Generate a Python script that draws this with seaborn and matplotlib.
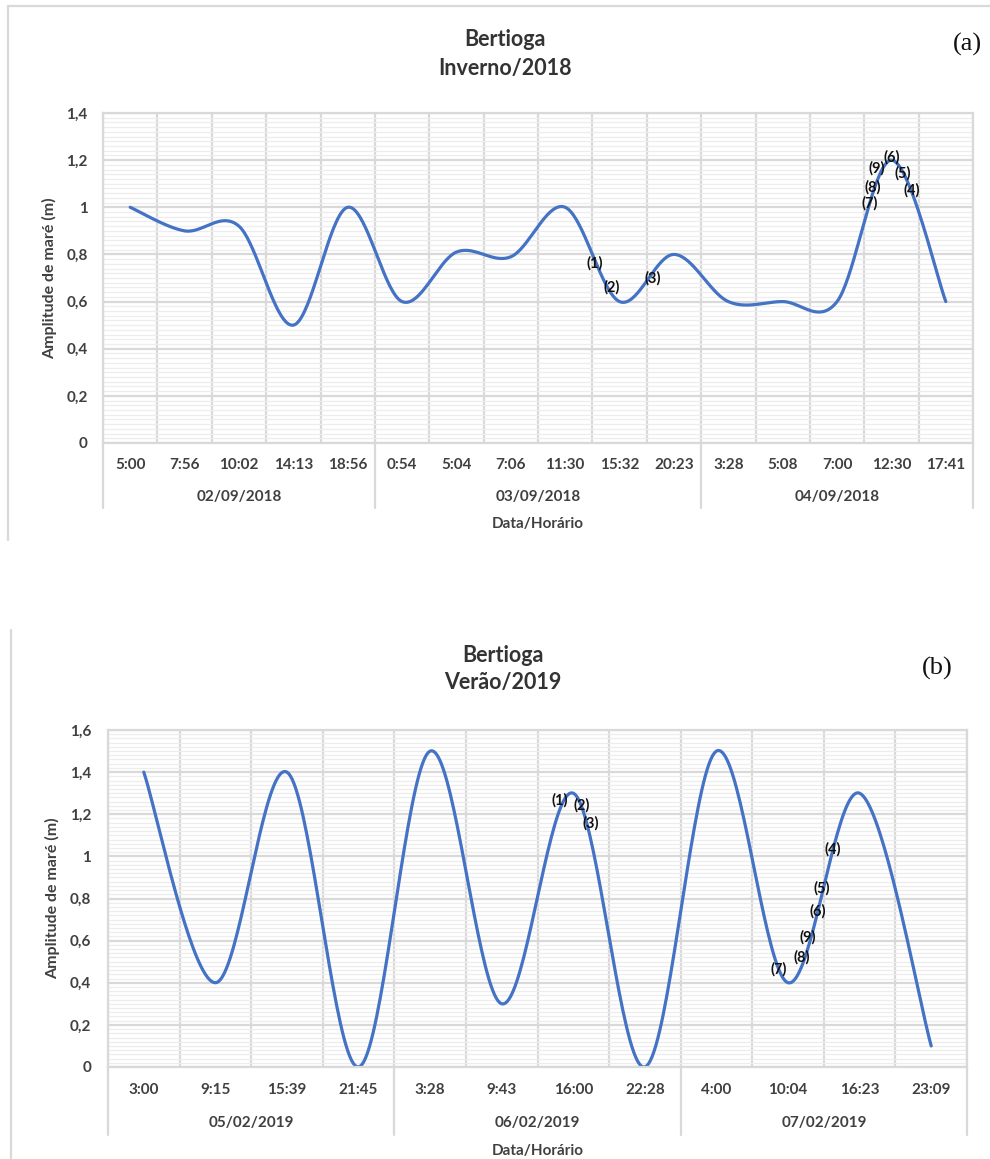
import numpy as np
import matplotlib
matplotlib.use("Agg")
import matplotlib.pyplot as plt
import seaborn as sns
from matplotlib.transforms import ScaledTranslation
from matplotlib.lines import Line2D

# ---------------- data ----------------
a_times = ["5:00", "7:56", "10:02", "14:13", "18:56", "0:54", "5:04", "7:06",
           "11:30", "15:32", "20:23", "3:28", "5:08", "7:00", "12:30", "17:41"]
a_dates = ["02/09/2018", "03/09/2018", "04/09/2018"]
a_group_sizes = [5, 6, 5]
a_values = [1.0, 0.9, 0.92, 0.5, 1.0, 0.6, 0.81, 0.79,
            1.0, 0.6, 0.8, 0.6, 0.6, 0.6, 1.2, 0.6]
a_marks = ["(1)", "(2)", "(3)", "(4)", "(5)", "(6)", "(7)", "(8)", "(9)"]
a_mark_x = [8.54, 8.86, 9.61, 14.37, 14.21, 14.0, 13.6, 13.65, 13.73]
a_mark_y = [0.764, 0.662, 0.70, 1.073, 1.146, 1.213, 1.018, 1.086, 1.167]

b_times = ["3:00", "9:15", "15:39", "21:45", "3:28", "9:43", "16:00", "22:28",
           "4:00", "10:04", "16:23", "23:09"]
b_dates = ["05/02/2019", "06/02/2019", "07/02/2019"]
b_group_sizes = [4, 4, 4]
b_values = [1.4, 0.4, 1.4, 0.0, 1.5, 0.3, 1.3, 0.0, 1.5, 0.4, 1.3, 0.1]
b_marks = ["(1)", "(2)", "(3)", "(4)", "(5)", "(6)", "(7)", "(8)", "(9)"]
b_mark_x = [5.81, 6.12, 6.25, 9.63, 9.47, 9.42, 8.87, 9.19, 9.28]
b_mark_y = [1.268, 1.244, 1.159, 1.035, 0.85, 0.741, 0.465, 0.522, 0.617]

# ---------------- style ----------------
W, H, DPI = 990, 1159, 100
sns.set_theme(style="white")
plt.rcParams["font.family"] = ["Lato", "DejaVu Sans"]

LINE = "#4472C4"
GRID = "#d9d9d9"
GRID_MINOR = "#ededed"
TXT = "#404040"
FS = 11

fig = plt.figure(figsize=(W / DPI, H / DPI), dpi=DPI)


def smooth(values, per=40):
    """Excel-like smoothed line (cubic Bezier through each data point)."""
    n = len(values)
    P = np.column_stack([np.arange(n, dtype=float), np.asarray(values, float)])
    xs, ys = [], []
    t = np.linspace(0, 1, per)
    for i in range(n - 1):
        p0 = P[max(i - 1, 0)]
        p1 = P[i]
        p2 = P[i + 1]
        p3 = P[min(i + 2, n - 1)]
        c1 = p1 + (p2 - p0) / 6.0
        c2 = p2 - (p3 - p1) / 6.0
        seg = ((1 - t) ** 3)[:, None] * p1 + (3 * (1 - t) ** 2 * t)[:, None] * c1 \
            + (3 * (1 - t) * t ** 2)[:, None] * c2 + (t ** 3)[:, None] * p2
        if i > 0:
            seg = seg[1:]
        xs.append(seg[:, 0])
        ys.append(seg[:, 1])
    return np.concatenate(xs), np.concatenate(ys)


def panel(box, times, dates, sizes, values, ymax, marks, mx, my, offs, ypad):
    x0, y0, x1, y1 = box  # pixel box of the plot area
    axw, axh = x1 - x0, y1 - y0
    ax = fig.add_axes([x0 / W, 1 - y1 / H, axw / W, axh / H])
    n = len(times)
    ax.set_xlim(-0.5, n - 0.5)
    ax.set_ylim(0, ymax)

    yt = np.round(np.arange(0, ymax + 1e-9, 0.2), 1)
    ax.set_yticks(yt)
    ax.set_yticklabels([("%g" % v).replace(".", ",") for v in yt])
    ax.set_yticks(np.arange(0, ymax + 1e-9, 0.02), minor=True)
    ax.set_xticks(range(n))
    ax.set_xticklabels(times)
    ax.set_xticks(np.arange(-0.5, n, 1.0), minor=True)

    ax.grid(which="minor", axis="y", color=GRID_MINOR, lw=0.9)
    ax.grid(which="major", axis="y", color=GRID, lw=1.6)
    ax.grid(which="minor", axis="x", color=GRID, lw=1.6)
    ax.grid(which="major", axis="x", visible=False)
    ax.set_axisbelow(True)
    for s in ax.spines.values():
        s.set_color(GRID)
        s.set_linewidth(1.6)

    ax.tick_params(axis="both", which="both", length=0)
    ax.tick_params(axis="y", pad=ypad, labelsize=FS, labelcolor=TXT)
    ax.tick_params(axis="x", pad=offs[0] * 0.72, labelsize=FS, labelcolor=TXT)
    for lab in ax.get_xticklabels():
        lab.set_verticalalignment("center")
        lab.set_fontweight("bold")
    for lab in ax.get_yticklabels():
        lab.set_fontweight("bold")

    xs, ys = smooth(values)
    sns.lineplot(x=xs, y=ys, ax=ax, color=LINE, lw=2.3, sort=False,
                 estimator=None)

    for t, xx, yy in zip(marks, mx, my):
        ax.text(xx, yy, t, ha="center", va="center", fontsize=10.5,
                fontweight="bold", color="#111111")

    trans = ax.get_xaxis_transform()
    # group separators and date labels
    bounds = np.concatenate([[0], np.cumsum(sizes)]) - 0.5
    for b in bounds:
        ax.add_line(Line2D([b, b], [0, -offs[2] / axh], transform=trans,
                           color=GRID, lw=1.6, clip_on=False))
    for i, d in enumerate(dates):
        c = (bounds[i] + bounds[i + 1]) / 2
        ax.text(c, 0, d, transform=trans + ScaledTranslation(0, -offs[1] / DPI, fig.dpi_scale_trans),
                ha="center", va="center", fontsize=FS, fontweight="bold", color=TXT)
    ax.text(0.5, -offs[3] / axh, "Data/Horário", transform=ax.transAxes,
            ha="center", va="center", fontsize=FS, fontweight="bold", color=TXT)
    ax.text(-offs[4] / axw, 0.5, "Amplitude de maré (m)", transform=ax.transAxes,
            rotation=90, ha="center", va="center", fontsize=11.5,
            fontweight="bold", color=TXT)
    ax.set_xlabel("")
    ax.set_ylabel("")
    return ax


def ftext(px, py, s, **kw):
    fig.text(px / W, 1 - py / H, s, **kw)


def fline(xa, ya, xb, yb):
    fig.add_artist(Line2D([xa / W, xb / W], [1 - ya / H, 1 - yb / H],
                          transform=fig.transFigure, color=GRID, lw=1.6))


# frames
fline(8, 6, 990, 6)
fline(8, 6, 8, 540)
fline(11, 630, 11, 1159)

TFS = 15.5
# panel (a)
panel((103, 113, 973, 443), a_times, a_dates, a_group_sizes, a_values, 1.4,
      a_marks, a_mark_x, a_mark_y, offs=(22, 54, 65, 81, 53), ypad=11)
ftext(505, 40, "Bertioga", ha="center", va="center", fontsize=TFS,
      fontweight="bold", color="#333333")
ftext(505, 68, "Inverno/2018", ha="center", va="center", fontsize=TFS,
      fontweight="bold", color="#333333")
ftext(967, 44, "(a)", ha="center", va="center", fontsize=19,
      family="Liberation Serif", color="#111111")

# panel (b)
panel((108, 730, 967, 1067), b_times, b_dates, b_group_sizes, b_values, 1.6,
      b_marks, b_mark_x, b_mark_y, offs=(23, 56, 68, 84, 55), ypad=12)
ftext(503, 655, "Bertioga", ha="center", va="center", fontsize=TFS,
      fontweight="bold", color="#333333")
ftext(503, 683, "Verão/2019", ha="center", va="center", fontsize=TFS,
      fontweight="bold", color="#333333")
ftext(937, 668, "(b)", ha="center", va="center", fontsize=19,
      family="Liberation Serif", color="#111111")

fig.savefig("out.png", dpi=DPI)
